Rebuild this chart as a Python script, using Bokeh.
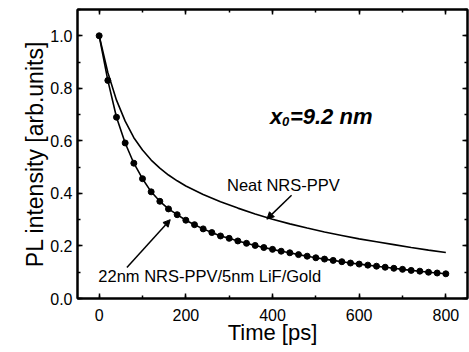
from bokeh.plotting import figure
from bokeh.models import (Range1d, LinearAxis, SingleIntervalTicker, Label, Arrow,
                          NormalHead, NumeralTickFormatter, CustomJSTickFormatter,
                          Title)
from bokeh.embed import file_html
from bokeh.resources import INLINE

# ---- data ----
time_ps = [0, 20, 40, 60, 80, 100, 120, 140, 160, 180, 200, 220, 240, 260, 280,
           300, 320, 340, 360, 380, 400, 420, 440, 460, 480, 500, 520, 540, 560,
           580, 600, 620, 640, 660, 680, 700, 720, 740, 760, 780, 800]
pl_lif_gold = [1.000, 0.830, 0.690, 0.592, 0.515, 0.456, 0.406, 0.370, 0.341,
               0.319, 0.298, 0.281, 0.265, 0.251, 0.238, 0.229, 0.219, 0.210,
               0.202, 0.194, 0.187, 0.180, 0.174, 0.167, 0.161, 0.155, 0.150,
               0.145, 0.140, 0.135, 0.131, 0.127, 0.123, 0.119, 0.115, 0.111,
               0.107, 0.104, 0.100, 0.097, 0.094]

neat_t = [0, 20, 40, 60, 80, 100, 120, 140, 160, 180, 200, 240, 280, 320, 360,
          400, 440, 480, 520, 560, 600, 640, 680, 720, 760, 800]
neat_pl = [1.000, 0.860, 0.755, 0.675, 0.612, 0.565, 0.527, 0.496, 0.470, 0.448,
           0.428, 0.396, 0.368, 0.344, 0.322, 0.302, 0.284, 0.268, 0.253, 0.240,
           0.227, 0.216, 0.205, 0.194, 0.184, 0.175]

x_ticks_interval = 200
y_ticks_interval = 0.2

FONT = "Liberation Sans"

p = figure(width=469, height=352, output_backend="svg", toolbar_location=None,
           x_range=Range1d(-50, 850), y_range=Range1d(0, 1.1),
           min_border_left=77, min_border_right=2, min_border_top=9,
           min_border_bottom=54)
p.grid.visible = False
p.outline_line_color = "black"
p.outline_line_width = 2
p.background_fill_color = "white"
p.border_fill_color = "white"

xb = p.below[0]
yl = p.left[0]
xb.axis_label = "Time [ps]"

xt = SingleIntervalTicker(interval=x_ticks_interval, num_minor_ticks=2)
yt = SingleIntervalTicker(interval=y_ticks_interval, num_minor_ticks=2)
xb.ticker = xt
yl.ticker = yt
yl.formatter = NumeralTickFormatter(format="0.0")
xb.formatter = NumeralTickFormatter(format="0")

blank = CustomJSTickFormatter(code="return ''")
right_ax = LinearAxis(ticker=yt, formatter=blank)
top_ax = LinearAxis(ticker=xt, formatter=blank)
p.add_layout(right_ax, "right")
p.add_layout(top_ax, "above")

for ax in [xb, yl, right_ax, top_ax]:
    ax.axis_line_color = "black"
    ax.axis_line_width = 2
    ax.major_tick_in = 5
    ax.major_tick_out = 0
    ax.minor_tick_in = 3
    ax.minor_tick_out = 0
    ax.major_tick_line_width = 1.5
    ax.minor_tick_line_width = 1.5
    ax.major_tick_line_color = "black"
    ax.minor_tick_line_color = "black"
    ax.major_label_text_font = FONT
    ax.major_label_text_font_size = "16px"
    ax.major_label_text_color = "black"
    ax.axis_label_text_font = FONT
    ax.axis_label_text_font_style = "normal"
    ax.axis_label_text_font_size = "22px"
    ax.axis_label_text_color = "black"

for ax in [right_ax, top_ax]:
    ax.major_label_standoff = 0

xb.major_label_standoff = 10
xb.axis_label_standoff = -4
yl.major_label_standoff = 5

# y-axis title, placed a little below the frame centre as in the original
p.add_layout(Title(text="PL intensity [arb.units]", align="center", offset=-21,
                   standoff=0, text_font=FONT, text_font_size="23px",
                   text_font_style="normal", text_color="black"), "left")

# curves
p.line(neat_t, neat_pl, line_color="black", line_width=1.6)
p.line(time_ps, pl_lif_gold, line_color="black", line_width=1.6)
p.scatter(time_ps, pl_lif_gold, marker="circle", size=6, fill_color="black",
          line_color="black")

# arrows
p.add_layout(Arrow(end=NormalHead(size=7, fill_color="black", line_color="black"),
                   x_start=444, y_start=0.393, x_end=387, y_end=0.302,
                   line_color="black", line_width=1.5))
p.add_layout(Arrow(end=NormalHead(size=7, fill_color="black", line_color="black"),
                   x_start=64, y_start=0.118, x_end=164, y_end=0.300,
                   line_color="black", line_width=1.5))

# labels
p.add_layout(Label(x=295, y=0.431, text="Neat NRS-PPV", text_font=FONT,
                   text_font_size="16.5px", text_baseline="middle",
                   text_color="black"))
p.add_layout(Label(x=-2, y=0.087, text="22nm NRS-PPV/5nm LiF/Gold", text_font=FONT,
                   text_font_size="16.5px", text_baseline="middle",
                   text_color="black"))
p.add_layout(Label(x=394, y=0.694, text="x", text_font=FONT, text_font_size="22px",
                   text_font_style="bold italic", text_baseline="alphabetic",
                   text_color="black"))
p.add_layout(Label(x=394, y=0.675, x_offset=12, text="0", text_font=FONT,
                   text_font_size="13px", text_font_style="bold italic",
                   text_baseline="alphabetic", text_color="black"))
p.add_layout(Label(x=394, y=0.694, x_offset=20, text="=9.2 nm", text_font=FONT,
                   text_font_size="22px", text_font_style="bold italic",
                   text_baseline="alphabetic", text_color="black"))

open("out.html", "w").write(file_html(p, INLINE))
